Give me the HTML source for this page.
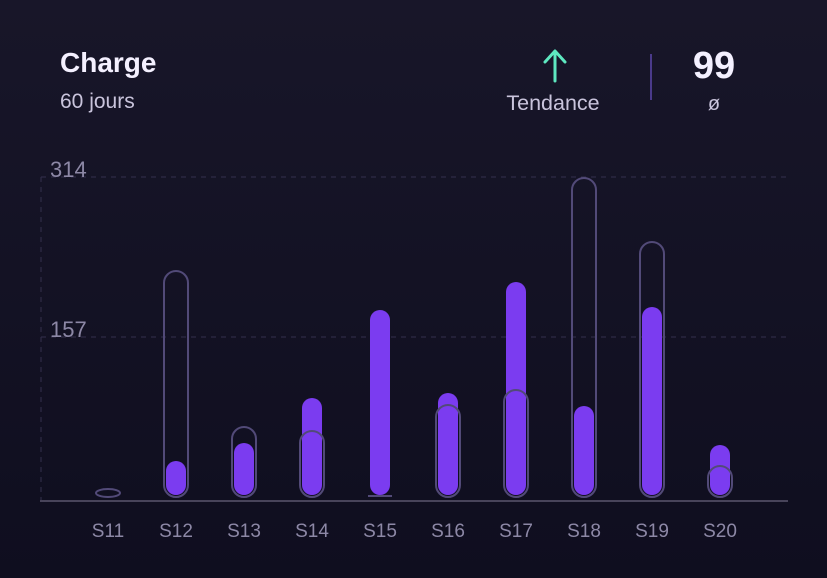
<!DOCTYPE html>
<html><head><meta charset="utf-8"><style>
html,body{margin:0;padding:0;}
body{width:827px;height:578px;background:linear-gradient(180deg,#181629 0%,#0f0e1f 100%);font-family:"Liberation Sans",sans-serif;overflow:hidden;}
</style></head><body>
<svg width="827" height="578" xmlns="http://www.w3.org/2000/svg" style="position:absolute;left:0;top:0">
<text x="60" y="72" fill="#f4f0ff" font-size="28" font-weight="bold" font-family="Liberation Sans, sans-serif">Charge</text>
<text x="60" y="108" fill="#c9c4dc" font-size="21" font-family="Liberation Sans, sans-serif">60 jours</text>
<g stroke="#5ee8c0" stroke-width="3" fill="none" stroke-linecap="round" stroke-linejoin="round">
<line x1="555" y1="81" x2="555" y2="52"/><polyline points="545,62 555,51 565,62"/></g>
<text x="553" y="110" fill="#c9c4dc" font-size="21.5" text-anchor="middle" font-family="Liberation Sans, sans-serif">Tendance</text>
<line x1="651" y1="54" x2="651" y2="100" stroke="#4a3a8a" stroke-width="2"/>
<text x="714" y="78" fill="#f4f0ff" font-size="38" font-weight="bold" text-anchor="middle" font-family="Liberation Sans, sans-serif">99</text>
<text x="714" y="110" fill="#c9c4dc" font-size="20" text-anchor="middle" font-family="Liberation Sans, sans-serif">ø</text>
<g stroke="#34304d" stroke-width="1" stroke-dasharray="5,5" fill="none">
<line x1="41" y1="177" x2="790" y2="177"/><line x1="41" y1="337" x2="790" y2="337"/><line x1="41" y1="177" x2="41" y2="500"/></g>
<text x="50" y="177" fill="#8d88a6" font-size="22" font-family="Liberation Sans, sans-serif">314</text>
<text x="50" y="337" fill="#8d88a6" font-size="22" font-family="Liberation Sans, sans-serif">157</text>
<line x1="40" y1="501" x2="788" y2="501" stroke="#5a566e" stroke-width="1.5"/>
<g fill="#7b3cf0">
<rect x="166" y="461" width="20" height="34" rx="10"/>
<rect x="234" y="443" width="20" height="52" rx="10"/>
<rect x="302" y="398" width="20" height="97" rx="10"/>
<rect x="370" y="310" width="20" height="185" rx="10"/>
<rect x="438" y="393" width="20" height="102" rx="10"/>
<rect x="506" y="282" width="20" height="213" rx="10"/>
<rect x="574" y="406" width="20" height="89" rx="10"/>
<rect x="642" y="307" width="20" height="188" rx="10"/>
<rect x="710" y="445" width="20" height="50" rx="10"/>
</g>
<g fill="none" stroke="#524a78" stroke-width="2">
<ellipse cx="108" cy="493" rx="12" ry="4"/>
<rect x="164" y="271" width="24" height="226" rx="12"/>
<rect x="232" y="427" width="24" height="70" rx="12"/>
<rect x="300" y="431" width="24" height="66" rx="12"/>
<line x1="368" y1="496" x2="392" y2="496"/>
<rect x="436" y="405" width="24" height="92" rx="12"/>
<rect x="504" y="390" width="24" height="107" rx="12"/>
<rect x="572" y="178" width="24" height="319" rx="12"/>
<rect x="640" y="242" width="24" height="255" rx="12"/>
<rect x="708" y="466" width="24" height="31" rx="12"/>
</g>
<g fill="#8d88a6" font-size="19" text-anchor="middle" font-family="Liberation Sans, sans-serif">
<text x="108" y="537">S11</text><text x="176" y="537">S12</text><text x="244" y="537">S13</text><text x="312" y="537">S14</text><text x="380" y="537">S15</text><text x="448" y="537">S16</text><text x="516" y="537">S17</text><text x="584" y="537">S18</text><text x="652" y="537">S19</text><text x="720" y="537">S20</text>
</g>
</svg>
</body></html>
